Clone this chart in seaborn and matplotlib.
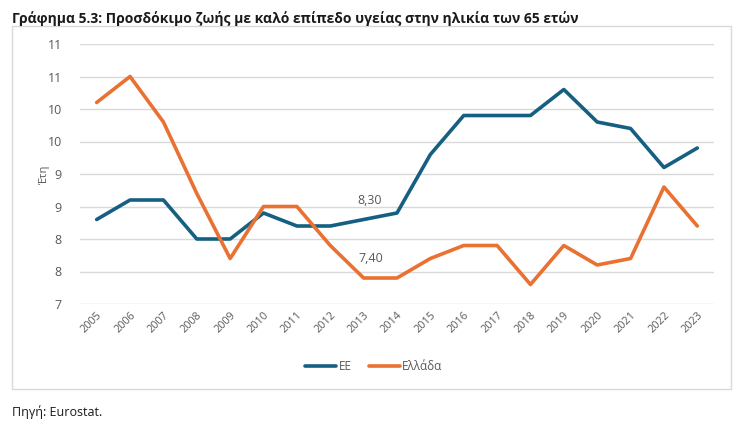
import pandas as pd
import numpy as np
import seaborn as sns
import matplotlib.pyplot as plt
from matplotlib.patches import Rectangle
from matplotlib.lines import Line2D

years = [str(y) for y in range(2005, 2024)]
ee = [8.3, 8.6, 8.6, 8.0, 8.0, 8.4, 8.2, 8.2, 8.3, 8.4,
      9.3, 9.9, 9.9, 9.9, 10.3, 9.8, 9.7, 9.1, 9.4]
greece = [10.1, 10.5, 9.8, 8.7, 7.7, 8.5, 8.5, 7.9, 7.4, 7.4,
          7.7, 7.9, 7.9, 7.3, 7.9, 7.6, 7.7, 8.8, 8.2]
series_names = ['ΕΕ', 'Ελλάδα']
yticks = [7.0, 7.5, 8.0, 8.5, 9.0, 9.5, 10.0, 10.5, 11.0]
ytick_labels = ['7', '8', '8', '9', '9', '10', '10', '11', '11']

df = pd.DataFrame({'year': years * 2,
                   'value': ee + greece,
                   'series': [series_names[0]] * len(years) + [series_names[1]] * len(years)})
df['pos'] = list(range(len(years))) * 2

sns.set_style('white')
plt.rcParams['font.family'] = ['Open Sans', 'DejaVu Sans']
grey = '#595959'

fig = plt.figure(figsize=(7.43, 4.30), dpi=100)
ax = fig.add_axes([80/743, 1 - 304/430, (714 - 80)/743, (304 - 44)/430])

# outer chart frame
fig.patches.append(Rectangle((12/743, 1 - 389/430), (731 - 12)/743, (389 - 26)/430,
                             transform=fig.transFigure, fill=False,
                             edgecolor='#d9d9d9', linewidth=1))

sns.lineplot(data=df, x='pos', y='value', hue='series',
             palette=['#156082', '#E97132'], linewidth=2.6, ax=ax, legend=False)

ax.set_xlim(-0.5, len(years) - 0.5)
ax.set_ylim(7, 11)
ax.set_yticks(yticks)
ax.set_yticklabels(ytick_labels)
ax.set_xticks(range(len(years)))
ax.set_xticklabels(years, rotation=45, ha='right', rotation_mode='anchor')
ax.tick_params(axis='x', labelsize=7.8, colors=grey, length=0, pad=4)
ax.tick_params(axis='y', labelsize=9, colors=grey, length=0, pad=13)
ax.grid(axis='y', color='#d9d9d9', linewidth=1)
for s in ax.spines.values():
    s.set_visible(False)
ax.set_xlabel('')
ax.set_ylabel('Έτη', color=grey, fontsize=8)
ax.yaxis.set_label_coords(-30/634, 0.5)

i13 = years.index('2013')
ax.annotate(f'{ee[i13]:.2f}'.replace('.', ','), (i13, ee[i13]), xytext=(4, 9),
            textcoords='offset points', ha='center', va='bottom', fontsize=9, color=grey)
ax.annotate(f'{greece[i13]:.2f}'.replace('.', ','), (i13, greece[i13]), xytext=(5, 9),
            textcoords='offset points', ha='center', va='bottom', fontsize=9, color=grey)

handles = [Line2D([], [], color='#156082', linewidth=2.6),
           Line2D([], [], color='#E97132', linewidth=2.6)]
fig.legend(handles, series_names, loc='center', bbox_to_anchor=(374/743, 1 - 367/430),
           ncol=2, frameon=False, fontsize=8.5, labelcolor=grey,
           handlelength=2.6, handletextpad=0.2, columnspacing=1.5)

fig.text(12/743, 1 - 18/430, 'Γράφημα 5.3: Προσδόκιμο ζωής με καλό επίπεδο υγείας στην ηλικία των 65 ετών',
         fontsize=10, fontweight='bold', color='#1a1a1a', va='center', ha='left')
fig.text(12/743, 1 - 412/430, 'Πηγή: Eurostat.', fontsize=9, color='#1a1a1a',
         va='center', ha='left')

fig.savefig('out.png', dpi=100)
